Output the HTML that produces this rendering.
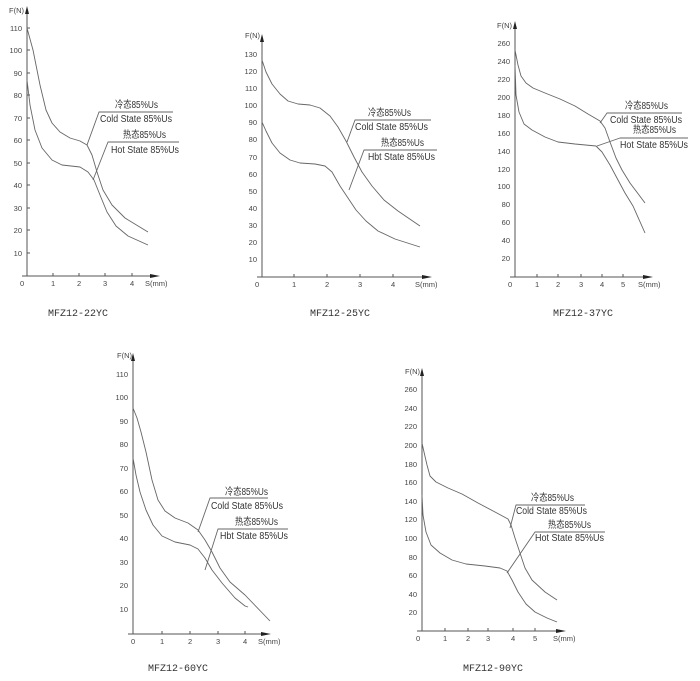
<!DOCTYPE html>
<html><head><meta charset="utf-8"><style>
html,body{margin:0;padding:0;background:#fff;}
svg{display:block;font-family:"Liberation Sans","Noto Sans CJK SC",sans-serif;}
.t{font-size:7.5px;fill:#444;}
.l{font-size:10px;fill:#333;font-family:"Liberation Sans","Noto Sans CJK SC",sans-serif;}
.ti{font-size:10px;fill:#333;font-family:"Liberation Mono",monospace;}
.c{fill:none;stroke:#666;stroke-width:0.9;stroke-linejoin:round;}
.a{stroke:#555;stroke-width:1;}
</style></head><body>
<svg width="700" height="681" viewBox="0 0 700 681">
<!-- Chart 1 -->
<g>
<line class="a" x1="27" y1="276" x2="27" y2="12"/><polygon points="27,6 25,14 29,14" fill="#222"/>
<line class="a" x1="22" y1="276" x2="152" y2="276"/><polygon points="160,276 150,274 150,278" fill="#222"/>
<text class="t" x="9" y="13">F(N)</text>
<g class="t" text-anchor="end">
<text x="22" y="31">110</text><text x="22" y="53">100</text><text x="22" y="76">90</text><text x="22" y="98">80</text><text x="22" y="121">70</text><text x="22" y="143">60</text><text x="22" y="166">50</text><text x="22" y="188">40</text><text x="22" y="211">30</text><text x="22" y="233">20</text><text x="22" y="256">10</text>
</g>
<g class="a"><line x1="27" y1="28" x2="30" y2="28"/><line x1="27" y1="50" x2="30" y2="50"/><line x1="27" y1="73" x2="30" y2="73"/><line x1="27" y1="95" x2="30" y2="95"/><line x1="27" y1="118" x2="30" y2="118"/><line x1="27" y1="140" x2="30" y2="140"/><line x1="27" y1="163" x2="30" y2="163"/><line x1="27" y1="185" x2="30" y2="185"/><line x1="27" y1="208" x2="30" y2="208"/><line x1="27" y1="230" x2="30" y2="230"/><line x1="27" y1="253" x2="30" y2="253"/>
<line x1="53" y1="276" x2="53" y2="273"/><line x1="79" y1="276" x2="79" y2="273"/><line x1="105" y1="276" x2="105" y2="273"/><line x1="132" y1="276" x2="132" y2="273"/></g>
<g class="t"><text x="20" y="286">0</text><text x="51" y="286">1</text><text x="77" y="286">2</text><text x="103" y="286">3</text><text x="130" y="286">4</text><text x="145" y="286">S(mm)</text></g>
<polyline class="c" points="27,28 33,50 40,85 46,110 52,123 60,132 70,138 80,141 87,145 92,155 97,172 103,190 112,205 125,218 148,232"/>
<polyline class="c" points="27,80 30,105 35,130 42,148 52,160 62,165 80,167 88,172 94,180 100,195 107,212 116,226 128,236 148,245"/>
<polyline class="c" points="87,145 99,112 173,112"/><polyline class="c" points="93,180 108,142 179,142"/>
<text class="l" x="115" y="108" textLength="43" lengthAdjust="spacingAndGlyphs">冷态85%Us</text><text class="l" x="100" y="122" textLength="72" lengthAdjust="spacingAndGlyphs">Cold State 85%Us</text>
<text class="l" x="123" y="138" textLength="43" lengthAdjust="spacingAndGlyphs">热态85%Us</text><text class="l" x="111" y="153" textLength="68" lengthAdjust="spacingAndGlyphs">Hot State 85%Us</text>
<text class="ti" x="48" y="316">MFZ12-22YC</text>
</g>
<!-- Chart 2 -->
<g>
<line class="a" x1="262" y1="277" x2="262" y2="40"/><polygon points="262,34 260,42 264,42" fill="#222"/>
<line class="a" x1="257" y1="277" x2="424" y2="277"/><polygon points="432,277 422,275 422,279" fill="#222"/>
<text class="t" x="245" y="38">F(N)</text>
<g class="t" text-anchor="end">
<text x="257" y="57">130</text><text x="257" y="74">120</text><text x="257" y="91">110</text><text x="257" y="108">100</text><text x="257" y="125">90</text><text x="257" y="142">80</text><text x="257" y="160">70</text><text x="257" y="177">60</text><text x="257" y="194">50</text><text x="257" y="211">40</text><text x="257" y="228">30</text><text x="257" y="245">20</text><text x="257" y="262">10</text>
</g>
<g class="a"><line x1="294" y1="277" x2="294" y2="274"/><line x1="327" y1="277" x2="327" y2="274"/><line x1="360" y1="277" x2="360" y2="274"/><line x1="393" y1="277" x2="393" y2="274"/></g>
<g class="t"><text x="255" y="287">0</text><text x="292" y="287">1</text><text x="325" y="287">2</text><text x="358" y="287">3</text><text x="391" y="287">4</text><text x="415" y="287">S(mm)</text></g>
<polyline class="c" points="262,60 266,72 272,84 280,94 288,101 298,104 310,105 320,108 330,116 338,127 346,141 354,157 362,172 372,186 384,200 398,211 420,226"/>
<polyline class="c" points="262,122 266,131 272,143 280,153 290,160 300,163 315,164 325,166 332,172 340,186 348,198 356,210 366,221 378,231 395,239 420,247"/>
<polyline class="c" points="347,142 355,120 431,120"/><polyline class="c" points="349,190 364,150 437,150"/>
<text class="l" x="368" y="116" textLength="43" lengthAdjust="spacingAndGlyphs">冷态85%Us</text><text class="l" x="355" y="130" textLength="73" lengthAdjust="spacingAndGlyphs">Cold State 85%Us</text>
<text class="l" x="381" y="146" textLength="43" lengthAdjust="spacingAndGlyphs">热态85%Us</text><text class="l" x="368" y="160" textLength="67" lengthAdjust="spacingAndGlyphs">Hbt State 85%Us</text>
<text class="ti" x="310" y="316">MFZ12-25YC</text>
</g>
<!-- Chart 3 -->
<g>
<line class="a" x1="515" y1="277" x2="515" y2="27"/><polygon points="515,21 513,29 517,29" fill="#222"/>
<line class="a" x1="510" y1="277" x2="645" y2="277"/><polygon points="653,277 643,275 643,279" fill="#222"/>
<text class="t" x="497" y="28">F(N)</text>
<g class="t" text-anchor="end">
<text x="510" y="46">260</text><text x="510" y="64">240</text><text x="510" y="82">220</text><text x="510" y="100">200</text><text x="510" y="118">180</text><text x="510" y="136">160</text><text x="510" y="154">140</text><text x="510" y="172">120</text><text x="510" y="189">100</text><text x="510" y="207">80</text><text x="510" y="225">60</text><text x="510" y="243">40</text><text x="510" y="261">20</text>
</g>
<g class="a"><line x1="537" y1="277" x2="537" y2="274"/><line x1="558" y1="277" x2="558" y2="274"/><line x1="581" y1="277" x2="581" y2="274"/><line x1="602" y1="277" x2="602" y2="274"/><line x1="623" y1="277" x2="623" y2="274"/></g>
<g class="t"><text x="508" y="287">0</text><text x="535" y="287">1</text><text x="556" y="287">2</text><text x="579" y="287">3</text><text x="600" y="287">4</text><text x="621" y="287">5</text><text x="638" y="287">S(mm)</text></g>
<polyline class="c" points="515,50 518,65 521,76 526,83 533,88 545,93 560,99 575,106 588,114 600,121 605,128 610,142 616,158 622,170 630,183 645,203"/>
<polyline class="c" points="515,65 516,95 519,112 524,124 532,130 545,137 558,142 575,144 596,146 602,152 610,165 618,180 625,193 633,206 645,233"/>
<polyline class="c" points="600,123 607,113 682,113"/><polyline class="c" points="597,146 620,138 688,138"/>
<text class="l" x="625" y="109" textLength="43" lengthAdjust="spacingAndGlyphs">冷态85%Us</text><text class="l" x="610" y="123" textLength="72" lengthAdjust="spacingAndGlyphs">Cold State 85%Us</text>
<text class="l" x="633" y="133" textLength="43" lengthAdjust="spacingAndGlyphs">热态85%Us</text><text class="l" x="620" y="148" textLength="68" lengthAdjust="spacingAndGlyphs">Hot State 85%Us</text>
<text class="ti" x="553" y="316">MFZ12-37YC</text>
</g>
<!-- Chart 4 -->
<g>
<line class="a" x1="133" y1="634" x2="133" y2="359"/><polygon points="133,353 131,361 135,361" fill="#222"/>
<line class="a" x1="128" y1="634" x2="263" y2="634"/><polygon points="271,634 261,632 261,636" fill="#222"/>
<text class="t" x="117" y="358">F(N)</text>
<g class="t" text-anchor="end">
<text x="128" y="377">110</text><text x="128" y="400">100</text><text x="128" y="424">90</text><text x="128" y="447">80</text><text x="128" y="471">70</text><text x="128" y="494">60</text><text x="128" y="518">50</text><text x="128" y="541">40</text><text x="128" y="565">30</text><text x="128" y="588">20</text><text x="128" y="612">10</text>
</g>
<g class="a"><line x1="162" y1="634" x2="162" y2="631"/><line x1="190" y1="634" x2="190" y2="631"/><line x1="218" y1="634" x2="218" y2="631"/><line x1="245" y1="634" x2="245" y2="631"/></g>
<g class="t"><text x="131" y="644">0</text><text x="160" y="644">1</text><text x="188" y="644">2</text><text x="216" y="644">3</text><text x="243" y="644">4</text><text x="258" y="644">S(mm)</text></g>
<polyline class="c" points="133,408 137,418 141,432 146,452 152,480 158,500 165,511 175,518 188,523 198,530 205,540 212,552 220,568 230,582 245,595 270,621"/>
<polyline class="c" points="133,458 136,475 140,492 146,510 153,525 162,536 175,542 190,545 198,549 205,558 212,570 222,583 235,598 245,606 248,607"/>
<polyline class="c" points="198,532 210,498 268,498"/><polyline class="c" points="205,570 218,529 288,529"/>
<text class="l" x="225" y="495" textLength="43" lengthAdjust="spacingAndGlyphs">冷态85%Us</text><text class="l" x="211" y="509" textLength="72" lengthAdjust="spacingAndGlyphs">Cold State 85%Us</text>
<text class="l" x="235" y="525" textLength="43" lengthAdjust="spacingAndGlyphs">热态85%Us</text><text class="l" x="220" y="539" textLength="68" lengthAdjust="spacingAndGlyphs">Hbt State 85%Us</text>
<text class="ti" x="148" y="671">MFZ12-60YC</text>
</g>
<!-- Chart 5 -->
<g>
<line class="a" x1="422" y1="631" x2="422" y2="374"/><polygon points="422,368 420,376 424,376" fill="#222"/>
<line class="a" x1="417" y1="631" x2="558" y2="631"/><polygon points="566,631 556,629 556,633" fill="#222"/>
<text class="t" x="405" y="374">F(N)</text>
<g class="t" text-anchor="end">
<text x="417" y="392">260</text><text x="417" y="411">240</text><text x="417" y="429">220</text><text x="417" y="448">200</text><text x="417" y="467">180</text><text x="417" y="485">160</text><text x="417" y="504">140</text><text x="417" y="522">120</text><text x="417" y="541">100</text><text x="417" y="560">80</text><text x="417" y="578">60</text><text x="417" y="597">40</text><text x="417" y="615">20</text>
</g>
<g class="a"><line x1="445" y1="631" x2="445" y2="628"/><line x1="468" y1="631" x2="468" y2="628"/><line x1="488" y1="631" x2="488" y2="628"/><line x1="513" y1="631" x2="513" y2="628"/><line x1="535" y1="631" x2="535" y2="628"/></g>
<g class="t"><text x="416" y="641">0</text><text x="443" y="641">1</text><text x="466" y="641">2</text><text x="486" y="641">3</text><text x="511" y="641">4</text><text x="533" y="641">5</text><text x="553" y="641">S(mm)</text></g>
<polyline class="c" points="422,443 424,452 427,465 430,476 436,482 448,488 462,494 478,503 495,512 508,519 511,525 515,538 520,553 525,568 532,580 545,592 557,600"/>
<polyline class="c" points="422,495 423,515 426,532 431,545 440,553 452,560 466,564 485,566 500,568 507,571 512,580 518,592 526,604 535,612 547,618 557,622"/>
<polyline class="c" points="510,528 516,505 585,505"/><polyline class="c" points="507,573 535,532 605,532"/>
<text class="l" x="531" y="501" textLength="43" lengthAdjust="spacingAndGlyphs">冷态85%Us</text><text class="l" x="516" y="514" textLength="71" lengthAdjust="spacingAndGlyphs">Cold State 85%Us</text>
<text class="l" x="548" y="528" textLength="43" lengthAdjust="spacingAndGlyphs">热态85%Us</text><text class="l" x="535" y="541" textLength="69" lengthAdjust="spacingAndGlyphs">Hot State 85%Us</text>
<text class="ti" x="463" y="671">MFZ12-90YC</text>
</g>
</svg>
</body></html>
